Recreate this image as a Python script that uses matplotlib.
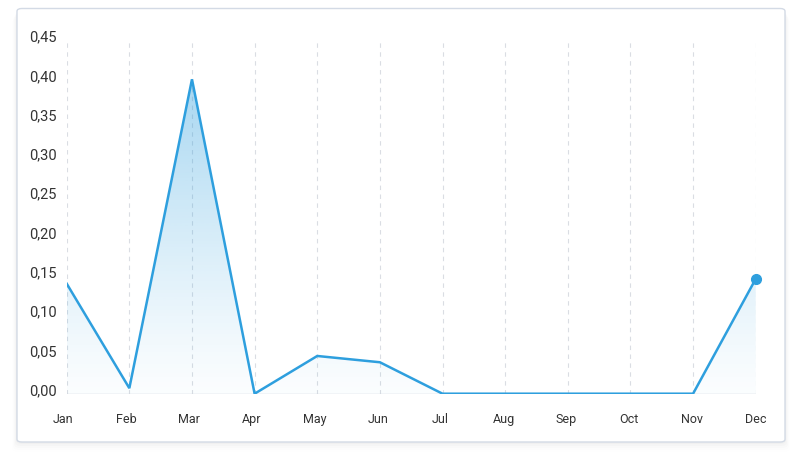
import numpy as np
import matplotlib
matplotlib.use("Agg")
import matplotlib.pyplot as plt
import matplotlib.transforms as mtransforms
from matplotlib.patches import FancyBboxPatch, Polygon
from matplotlib.ticker import FuncFormatter

plt.rcParams['font.family'] = ['Roboto', 'DejaVu Sans']

# data
months = ['Jan', 'Feb', 'Mar', 'Apr', 'May', 'Jun', 'Jul', 'Aug', 'Sep', 'Oct', 'Nov', 'Dec']
values = [0.14, 0.007, 0.40, 0.0, 0.048, 0.040, 0.0, 0.0, 0.0, 0.0, 0.0, 0.146]
y_ticks = [0.0, 0.05, 0.10, 0.15, 0.20, 0.25, 0.30, 0.35, 0.40, 0.45]

W, H = 802, 467
fig = plt.figure(figsize=(W / 100, H / 100), dpi=100)
fig.patch.set_facecolor('white')

# card with soft shadow
cx0, cy0, cx1, cy1 = 17, 8.5, 785, 442
for i, a in enumerate([0.018, 0.014, 0.010, 0.007, 0.004]):
    d = (i + 1) * 2.0
    sh = FancyBboxPatch(((cx0 - d * 0.5) / W, 1 - (cy1 + d) / H),
                        (cx1 - cx0 + d) / W, (cy1 - cy0) / H,
                        boxstyle="round,pad=0,rounding_size=0.008",
                        transform=fig.transFigure, facecolor='black',
                        edgecolor='none', alpha=a, zorder=0)
    fig.patches.append(sh)
card = FancyBboxPatch((cx0 / W, 1 - cy1 / H), (cx1 - cx0) / W, (cy1 - cy0) / H,
                      boxstyle="round,pad=0,rounding_size=0.006",
                      transform=fig.transFigure, facecolor='white',
                      edgecolor='#d3dae5', linewidth=1.0, zorder=1)
fig.patches.append(card)

x0, x1 = 66.7, 755.7
ybot, ytop = 393.7, 40
ax = fig.add_axes([x0 / W, 1 - ybot / H, (x1 - x0) / W, (ybot - ytop) / H])
ax.set_facecolor('none')
ax.set_zorder(2)

x = np.arange(len(months))
line_color = '#2e9fde'

ax.set_xlim(0, len(months) - 1)
ax.set_ylim(0, 0.45)

# gradient fill under the line
verts = [(0, 0)] + list(zip(x, values)) + [(x[-1], 0)]
poly = Polygon(verts, closed=True, facecolor='none', edgecolor='none')
ax.add_patch(poly)
grad = np.linspace(0, 1, 256).reshape(-1, 1)
rgba = np.zeros((256, 1, 4))
rgba[..., 0] = 0x2e / 255
rgba[..., 1] = 0x9f / 255
rgba[..., 2] = 0xde / 255
rgba[..., 3] = 0.02 + 0.40 * grad ** 1.2
img = ax.imshow(rgba, extent=[0, len(months) - 1, 0, max(values)], origin='lower',
                aspect='auto', zorder=1, interpolation='bilinear')
img.set_clip_path(poly)

ax.plot(x, values, color=line_color, linewidth=1.8, zorder=3, solid_joinstyle='miter')
ax.plot(x[-1], values[-1], 'o', color=line_color, markersize=7, zorder=4, clip_on=False)

# vertical dashed gridlines
for xi in x:
    ax.axvline(xi, color='#dadde3', linewidth=0.8, linestyle=(0, (4, 4)), zorder=0)
ax.axhline(0, color='#c9d1dc', linewidth=1.0, zorder=2)

for s in ax.spines.values():
    s.set_visible(False)

ax.set_xticks(x)
ax.set_xticklabels(months)
ax.set_yticks(y_ticks)
ax.yaxis.set_major_formatter(FuncFormatter(lambda v, p: f"{v:.2f}".replace('.', ',')))
ax.tick_params(axis='x', length=0, pad=14, labelsize=9, labelcolor='#333333')
ax.tick_params(axis='y', length=0, pad=7, labelsize=10.5, labelcolor='#333333')
up = mtransforms.ScaledTranslation(0, 4 / 100, fig.dpi_scale_trans)
for lab in ax.get_yticklabels():
    lab.set_transform(lab.get_transform() + up)
# month labels sit a touch left of their gridlines, less so towards Dec
for i, lab in enumerate(ax.get_xticklabels()):
    dx = -3.7 + i * 0.3
    lab.set_transform(lab.get_transform() + mtransforms.ScaledTranslation(dx / 100, 0, fig.dpi_scale_trans))

fig.savefig('out.png', dpi=100, facecolor='white')
